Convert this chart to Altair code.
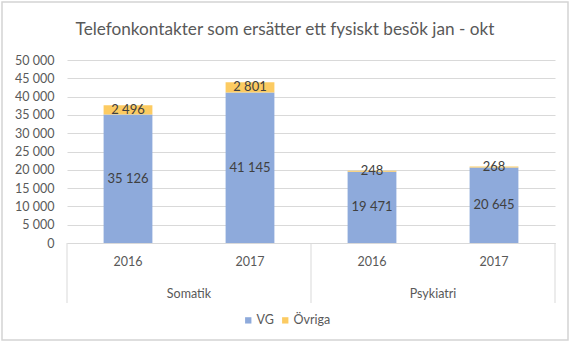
import altair as alt
import pandas as pd

# ---- data ----
groups = ["Somatik", "Somatik", "Psykiatri", "Psykiatri"]
years = ["2016", "2017", "2016", "2017"]
vg = [35126, 41145, 19471, 20645]
ovriga = [2496, 2801, 248, 268]
series = ["VG", "Övriga"]
colors = ["#8EAADB", "#FCCB62"]
y_ticks = list(range(0, 50001, 5000))
group_names = ["Somatik", "Psykiatri"]
title_text = "Telefonkontakter  som ersätter ett fysiskt besök jan - okt"

FONT = "Lato"
GRAY = "#595959"
LINE = "#D9D9D9"
W, H = 488, 183

keys = [f"{g}|{y}" for g, y in zip(groups, years)]
rows = []
for k, g, y, a, b in zip(keys, groups, years, vg, ovriga):
    rows.append({"key": k, "group": g, "year": y, "series": series[0], "order": 0, "value": a})
    rows.append({"key": k, "group": g, "year": y, "series": series[1], "order": 1, "value": b})
df = pd.DataFrame(rows)

first_keys = [k for k, y in zip(keys, years) if y == years[0]]
df_groups = pd.DataFrame({"group": group_names, "key": first_keys})
df_left = pd.DataFrame({"key": first_keys})
df_right = pd.DataFrame({"key": [keys[-1]]})

xscale = alt.Scale(domain=keys, paddingInner=0, paddingOuter=0)
yscale = alt.Scale(domain=[0, 50000])
fmt = "replace(format(datum.value, ','), ',', ' ')"

xaxis = alt.Axis(labelExpr="split(datum.value, '|')[1]", labelAngle=0, ticks=False,
                 domainColor=LINE, labelPadding=12, labelFontSize=12.5,
                 labelColor=GRAY, labelFont=FONT, title=None, grid=False)
yaxis = alt.Axis(values=y_ticks, labelExpr=fmt, grid=True, gridColor=LINE,
                 domain=False, ticks=False, labelPadding=13, labelFontSize=12.5,
                 labelColor=GRAY, labelFont=FONT, title=None)


def xenc(band=0.5):
    return alt.X("key:N", scale=xscale, sort=keys, bandPosition=band, axis=xaxis)


bars = alt.Chart(df).mark_bar(width=alt.RelativeBandSize(0.4)).encode(
    x=alt.X("key:N", scale=xscale, sort=keys, axis=xaxis),
    y=alt.Y("value:Q", stack="zero", scale=yscale, axis=yaxis),
    color=alt.Color("series:N", scale=alt.Scale(domain=series, range=colors),
                    legend=alt.Legend(title=None, orient="none", legendX=175, legendY=254,
                                      direction="horizontal", symbolType="square",
                                      symbolSize=40, symbolStrokeWidth=0, labelFontSize=12.5,
                                      labelColor=GRAY, labelFont=FONT, columnPadding=5,
                                      labelOffset=2)),
    order=alt.Order("order:Q"),
)

labels = alt.Chart(df).transform_stack(
    stack="value", groupby=["key"], sort=[alt.SortField("order")], as_=["y0", "y1"]
).transform_calculate(
    mid="(datum.y0 + datum.y1) / 2", label=fmt
).mark_text(font=FONT, fontSize=13, color="#404040").encode(
    x=alt.X("key:N", scale=xscale, sort=keys, axis=xaxis),
    y=alt.Y("mid:Q", scale=yscale, axis=yaxis),
    text="label:N",
)

group_text = alt.Chart(df_groups).mark_text(
    font=FONT, fontSize=12.5, color=GRAY, baseline="middle"
).encode(
    x=xenc(1),
    y=alt.value(H + 51),
    text="group:N",
)

sep_left = alt.Chart(df_left).mark_rule(color=LINE).encode(
    x=xenc(0), y=alt.value(H), y2=alt.value(H + 60),
)
sep_right = alt.Chart(df_right).mark_rule(color=LINE).encode(
    x=xenc(1), y=alt.value(H), y2=alt.value(H + 60),
)

border = alt.Chart(pd.DataFrame({"a": [0]})).mark_rect(
    fillOpacity=0, stroke="#D4D4D4", strokeWidth=1.5
).encode(
    x=alt.value(-65), x2=alt.value(501), y=alt.value(-58), y2=alt.value(280)
)

chart = alt.layer(border, sep_left, sep_right, bars, labels, group_text).properties(
    width=W, height=H,
    title=alt.TitleParams(title_text, font=FONT, fontSize=17.2, fontWeight="normal",
                          color=GRAY, anchor="middle", offset=0, dy=37, dx=-26),
    autosize=alt.AutoSizeParams(type="none"),
    padding={"left": 67, "top": 60, "right": 16, "bottom": 101},
    background="white",
).configure_view(stroke=None)

chart.save("out.html", embed_options={"renderer": "svg", "actions": False})
